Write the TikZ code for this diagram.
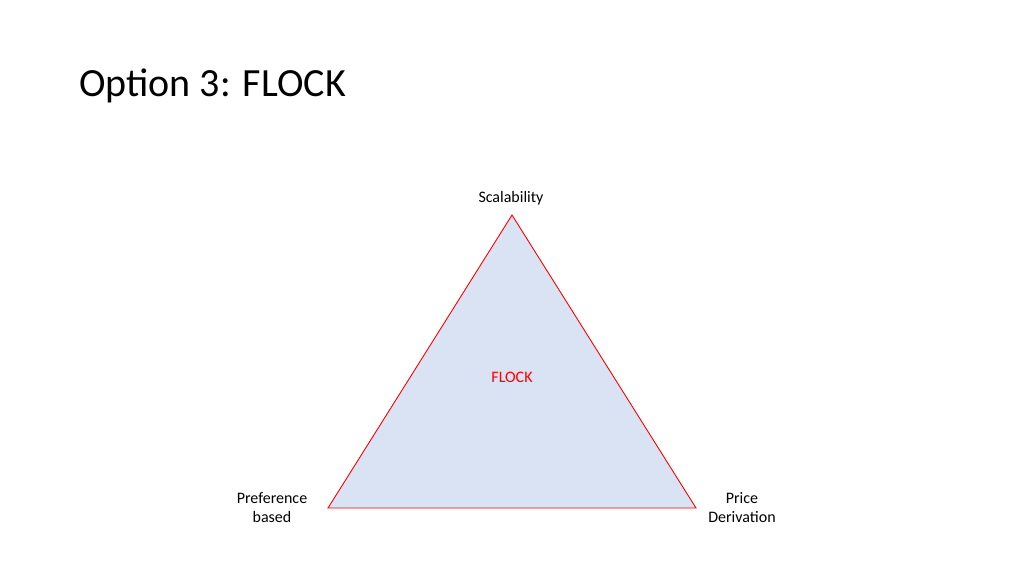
\documentclass[tikz,border=0pt]{standalone}
\usepackage{fontspec}
\setmainfont{Carlito}
\definecolor{triblue}{HTML}{DAE3F3}
\definecolor{trired}{HTML}{FF0000}
\begin{document}
\begin{tikzpicture}[x=1pt,y=-1pt,
  lbl/.style={font=\fontsize{16}{19}\selectfont, align=center, inner sep=0pt}]
\useasboundingbox (0,0) rectangle (1024,576);
\node[anchor=west, font=\fontsize{40}{44}\selectfont, inner sep=0pt] (title) at (79,86) {Option 3: FLOCK};
\coordinate (top) at (512,215);
\coordinate (bl) at (328,508);
\coordinate (br) at (696,508);
\filldraw[fill=triblue, draw=trired, line width=0.9pt] (top) -- (bl) -- (br) -- cycle;
\node[lbl] (sc) at (511,198) {Scalability};
\node[lbl, text=trired] (fl) at (512,377) {FLOCK};
\node[lbl] (pb) at (272,508) {Preference\\based};
\node[lbl] (pd) at (742,508) {Price\\Derivation};
\end{tikzpicture}
\end{document}
